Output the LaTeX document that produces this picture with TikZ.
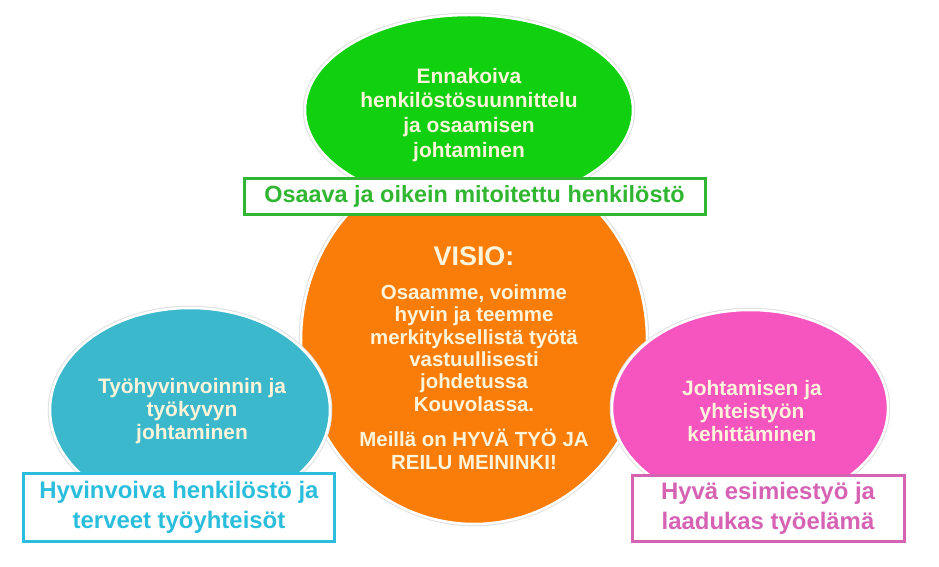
\documentclass[tikz,border=0pt]{standalone}
\usepackage{fontspec}
\setmainfont{Liberation Sans}
\usepackage{tikz}
\usetikzlibrary{shapes.geometric}
\usetikzlibrary{positioning}

\definecolor{vihrea}{RGB}{16,208,16}
\definecolor{oranssi}{RGB}{250,125,10}
\definecolor{turkoosi}{RGB}{60,184,204}
\definecolor{pinkki}{RGB}{246,84,190}
\definecolor{kerma}{RGB}{253,244,218}
\definecolor{vihreareuna}{RGB}{48,182,48}
\definecolor{turkoosireuna}{RGB}{42,190,220}
\definecolor{pinkkireuna}{RGB}{214,98,180}

\begin{document}
\begin{tikzpicture}[x=1bp,y=-1bp,
	pallo/.style={ellipse,draw=white,line width=2.5bp,preaction={draw=black!12,line width=4.5bp},inner sep=0pt},
	teksti/.style={align=center,text=kerma,font=\bfseries\fontsize{21}{23}\selectfont},
	laatikko/.style={rectangle,draw,fill=white,line width=3bp,align=center,inner sep=0pt,font=\bfseries\fontsize{24}{30}\selectfont}]
	\fill[white] (0,0) rectangle (939,567);
	\useasboundingbox (0,0) rectangle (939,567);

	% ellipses
	\node[pallo, fill=oranssi, minimum width=346bp, minimum height=368bp] (visio) at (474,340) {};
	\node[pallo, fill=vihrea, minimum width=328bp, minimum height=190bp] (plan) at (469,110) {};
	\node[pallo, fill=turkoosi, minimum width=280bp, minimum height=204bp] (hyvin) at (190,410) {};
	\node[pallo, fill=pinkki, minimum width=276bp, minimum height=196bp] (johto) at (750,408) {};

	% texts inside
	\node[teksti, font=\bfseries\fontsize{21}{25}\selectfont] (plantxt) at (469,115) {Ennakoiva\\henkilöstösuunnittelu\\ja osaamisen\\johtaminen};
	\node[teksti, font=\bfseries\fontsize{27}{30}\selectfont] (visiotitle) at (474,256) {VISIO:};
	\node[teksti, font=\bfseries\fontsize{20.5}{22.5}\selectfont] (visiotxt) at (474,348) {Osaamme, voimme\\hyvin ja teemme\\merkityksellistä työtä\\vastuullisesti\\johdetussa\\Kouvolassa.};
	\node[teksti, font=\bfseries\fontsize{20.5}{23}\selectfont] (motto) at (474,449) {Meillä on HYVÄ TYÖ JA\\REILU MEININKI!};
	\node[teksti] (hyvintxt) at (192,411) {Työhyvinvoinnin ja\\työkyvyn\\johtaminen};
	\node[teksti] (johtotxt) at (752,411) {Johtamisen ja\\yhteistyön\\kehittäminen};

	% boxes
	\node[laatikko, draw=vihreareuna, text=vihreareuna, minimum width=461bp, minimum height=36bp, font=\bfseries\fontsize{23.5}{28}\selectfont] (osaava) at (474.5,196.5) {Osaava ja oikein mitoitettu henkilöstö};
	\node[laatikko, draw=turkoosireuna, text=turkoosireuna, minimum width=310bp, minimum height=68bp] (terveet) at (179,507) {Hyvinvoiva henkilöstö ja\\terveet työyhteisöt};
	\node[laatikko, draw=pinkkireuna, text=pinkkireuna, minimum width=272bp, minimum height=66bp] (laatu) at (768,508.5) {Hyvä esimiestyö ja\\laadukas työelämä};
\end{tikzpicture}
\end{document}
